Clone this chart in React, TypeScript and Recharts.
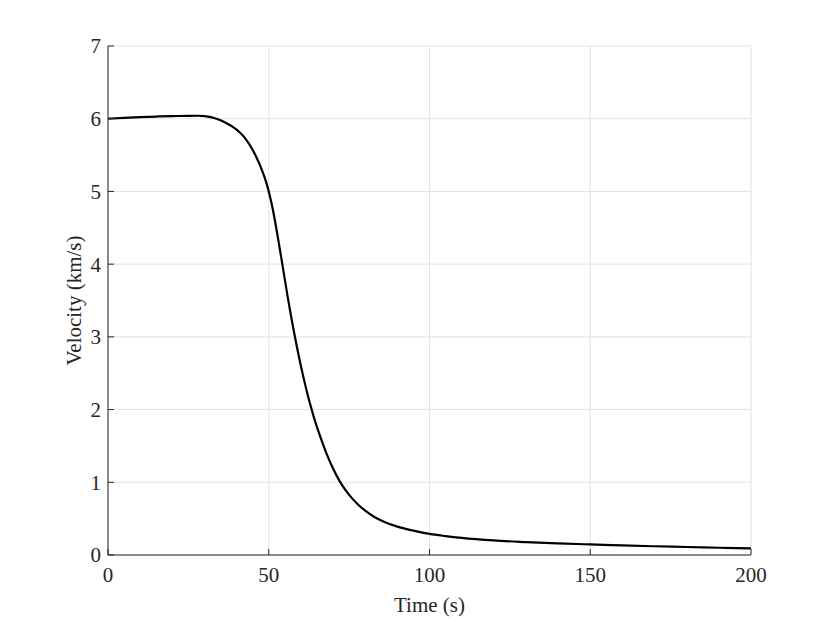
import { LineChart, Line, XAxis, YAxis, CartesianGrid } from 'recharts'

const times = [
  0, 5, 10, 15, 20, 25, 28, 30, 32, 33, 34, 35, 36, 37, 38, 39, 40, 41, 42, 43,
  44, 45, 46, 47, 48, 49, 50, 51, 52, 53, 54, 55, 56, 57, 58, 59, 60, 61, 62, 63,
  64, 66, 68, 70, 72, 74, 76, 78, 80, 83, 86, 90, 95, 100, 105, 110, 120, 130,
  140, 150, 160, 170, 180, 190, 200,
]
const velocity = [
  6.0, 6.012, 6.022, 6.03, 6.036, 6.04, 6.041, 6.036, 6.022, 6.01, 5.995, 5.978,
  5.958, 5.935, 5.91, 5.882, 5.85, 5.81, 5.765, 5.71, 5.645, 5.57, 5.485, 5.39,
  5.28, 5.155, 5.0, 4.81, 4.58, 4.325, 4.058, 3.788, 3.523, 3.27, 3.032, 2.81,
  2.6, 2.405, 2.222, 2.055, 1.9, 1.63, 1.39, 1.19, 1.02, 0.885, 0.775, 0.685,
  0.61, 0.52, 0.455, 0.39, 0.335, 0.29, 0.26, 0.235, 0.2, 0.178, 0.16, 0.145,
  0.132, 0.12, 0.11, 0.1, 0.09,
]
const xTicks = [0, 50, 100, 150, 200]
const yTicks = [0, 1, 2, 3, 4, 5, 6, 7]

const data = times.map((t, i) => ({ t, v: velocity[i] }))

const axisColor = '#262626'
const font = '"Liberation Serif", "Times New Roman", serif'
const blank = () => ''

function XTick({ x, y, payload }: any) {
  return (
    <text x={x} y={y} dy="0.71em" textAnchor="middle" fill={axisColor} style={{ fontFamily: font, fontSize: 21 }}>
      {payload.value}
    </text>
  )
}

function YTick({ x, y, payload }: any) {
  return (
    <text x={x} y={y} dy="0.355em" textAnchor="end" fill={axisColor} style={{ fontFamily: font, fontSize: 21 }}>
      {payload.value}
    </text>
  )
}

export default function App() {
  return (
    <div style={{ position: 'absolute', left: 0, top: 0, width: 830, height: 623, background: '#fff', fontFamily: font }}>
      <LineChart width={830} height={623} data={data} margin={{ top: 46, right: 79, left: 78, bottom: 38 }}>
        <CartesianGrid stroke="#e3e3e3" />
        <XAxis
          dataKey="t"
          type="number"
          domain={[0, 200]}
          ticks={xTicks}
          height={30}
          stroke={axisColor}
          tickSize={-6}
          tickMargin={18}
          tick={<XTick />}
          label={{ value: 'Time (s)', position: 'insideBottom', offset: -27, fill: axisColor, fontSize: 21, fontFamily: font }}
        />
        <YAxis
          dataKey="v"
          type="number"
          domain={[0, 7]}
          ticks={yTicks}
          width={30}
          stroke={axisColor}
          tickSize={-6}
          tickMargin={13}
          tick={<YTick />}
          label={{ value: 'Velocity (km/s)', angle: -90, position: 'insideLeft', offset: -4, fill: axisColor, fontSize: 21, fontFamily: font, style: { textAnchor: 'middle' } }}
        />
        <XAxis xAxisId="top" orientation="top" type="number" domain={[0, 200]} ticks={xTicks} height={0} stroke={axisColor} tickSize={-6} tickFormatter={blank} />
        <YAxis yAxisId="right" orientation="right" type="number" domain={[0, 7]} ticks={yTicks} width={0} stroke={axisColor} tickSize={-6} tickFormatter={blank} />
        <Line type="monotone" dataKey="v" stroke="#000" strokeWidth={2.2} dot={false} isAnimationActive={false} />
      </LineChart>
    </div>
  )
}
